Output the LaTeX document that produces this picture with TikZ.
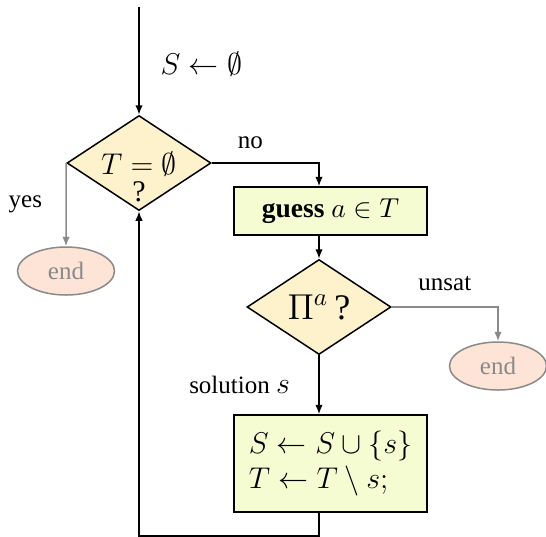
\documentclass[tikz,border=0pt]{standalone}
\usepackage{fontspec}
\setmainfont{Liberation Serif}
\usetikzlibrary{arrows.meta,positioning,calc,shapes.geometric}
\definecolor{condfill}{HTML}{FEF2CD}
\definecolor{procfill}{HTML}{F6FCD2}
\definecolor{endfill}{HTML}{FDE4D6}
\definecolor{endgray}{HTML}{8A8A8A}

\begin{document}
\begin{tikzpicture}[
    x=0.4pt, y=-0.4pt,
    >={Latex[length=3.8pt,width=3pt]},
    decision/.style={draw, semithick, diamond, aspect=1.5, fill=condfill, minimum width=57.6pt, minimum height=38pt, inner sep=0pt},
    process/.style={draw, semithick, rectangle, fill=procfill, minimum width=77.2pt, minimum height=19.2pt, align=left, inner sep=3pt},
    terminal/.style={draw=endgray, semithick, ellipse, fill=endfill, text=endgray, minimum width=38.8pt, minimum height=19.2pt, inner sep=0pt},
    flow/.style={->, semithick},
    exitflow/.style={->, semithick, draw=endgray}
]
\useasboundingbox (0,0) rectangle (546,536);

\coordinate (start) at (139,7);
\node[decision, label={[align=center, font=\large, yshift=-5.5pt]center:{$T=\emptyset$\\[-3pt]?}}] (empty) at (139,163) {};
\node[terminal] (end1) at (66,271) {end};
\node[process, font=\fontsize{11}{13}\selectfont] (guess) at (330.5,211) {\textbf{guess} $a\in T$};
\node[decision, label={[font=\Large]center:{$\Pi^a$\,?}}] (check) at (319,307) {};
\node[terminal] (end2) at (498,366) {end};
\node[process, font=\large, minimum height=38.8pt] (update) at (330.5,463.5) {$S\leftarrow S\cup\{s\}$\\ $T\leftarrow T\setminus s;$};

\draw[flow] (start) -- node[pos=0.53, right=5pt, font=\large] {$S\leftarrow\emptyset$} (empty.north);
\draw[flow] (empty.east) -| node[pos=0.18, above=2pt] {no} (check.north |- guess.north);
\draw[exitflow] (empty.west) -- node[midway, left=6pt] {yes} (end1.north);
\draw[flow] (guess.south -| check.north) -- (check.north);
\draw[exitflow] (check.east) -| node[pos=0.25, above=3pt] {unsat} (end2.north);
\draw[flow] (check.south) -- node[midway, left=8pt] {solution \large $s$} (update.north -| check.south);
\draw[flow] (update.south -| check.south) -- ++(0,23) -| (empty.south);
\end{tikzpicture}
\end{document}
